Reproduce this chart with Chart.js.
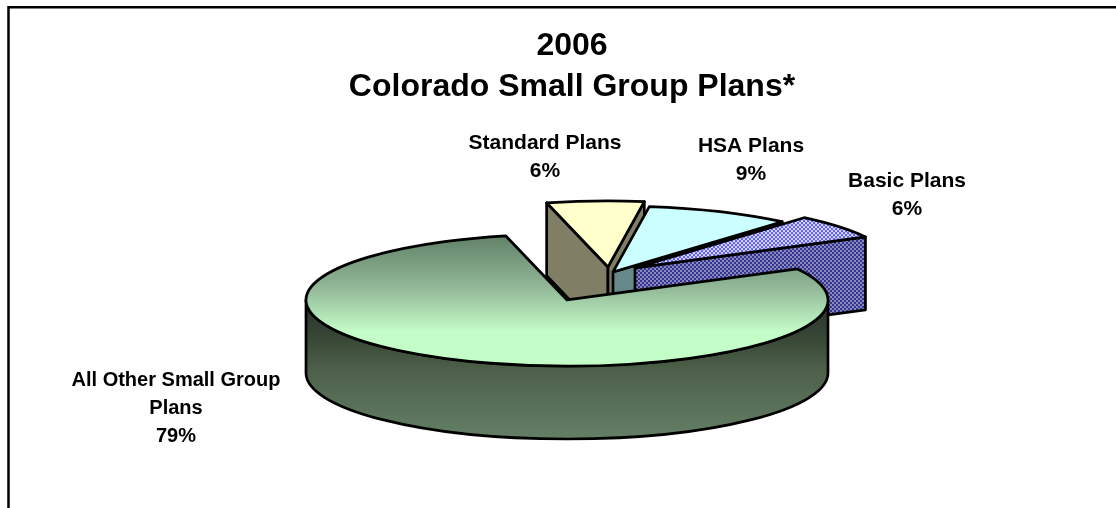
<!DOCTYPE html>
<html>
<head>
<meta charset="utf-8">
<title>2006 Colorado Small Group Plans</title>
<script src="https://cdn.jsdelivr.net/npm/chart.js@4"></script>
<style>
  html, body { margin: 0; padding: 0; background: #fff; overflow: hidden; }
  #wrap { width: 1116px; height: 508px; }
</style>
</head>
<body>
<div id="wrap"><canvas id="planChart" width="1116" height="508"></canvas></div>
<script>
// Chart data
const categories = ['Standard Plans', 'HSA Plans', 'Basic Plans', ['All Other Small Group', 'Plans']];
const shares = [6, 9, 6, 79];
const titleLines = ['2006', 'Colorado Small Group Plans*'];

// Pie drawing settings
const PIE_RADIUS = 261;
const SQUASH = 0.253;
const DEPTH = 73;
const LINE_WIDTH = 2.7;
const FIRST_SLICE_ANGLE = -13.6;
const explodeShift = [[36, -33], [41, -28], [63, -32], [-5, 0]];
const sideColors = ['#807f66', '#66888a', null, null];
const labelCenters = [[545, 143], [751, 146], [907, 181], [176, 380]];
const labelSizes = [21, 21, 21, 20];
const FONT_FAMILY = '"Liberation Sans", Arial, sans-serif';

function checkerPattern(ctx, colorA, colorB, scaleY) {
  const tile = document.createElement('canvas');
  tile.width = 4;
  tile.height = 4;
  const t = tile.getContext('2d');
  t.fillStyle = colorA;
  t.fillRect(0, 0, 4, 4);
  t.fillStyle = colorB;
  t.fillRect(0, 0, 2, 2);
  t.fillRect(2, 2, 2, 2);
  const pattern = ctx.createPattern(tile, 'repeat');
  pattern.setTransform(new DOMMatrix().scale(1, scaleY));
  return pattern;
}

// The top of the pie is painted under a squash transform, so its gradient is in unsquashed units
function sliceFill(context) {
  const chart = context.chart;
  if (context.dataIndex === 0) return '#ffffcc';
  if (context.dataIndex === 1) return '#ccffff';
  if (context.dataIndex === 2) return checkerPattern(chart.ctx, '#dcdcff', '#5a5aff', 1 / SQUASH);
  const area = chart.chartArea;
  if (!area) return '#c4fdc8';
  const cy = (area.top + area.bottom) / 2;
  const g = chart.ctx.createLinearGradient(0, cy - PIE_RADIUS, 0, cy + PIE_RADIUS * 0.48);
  g.addColorStop(0, '#5f7f65');
  g.addColorStop(0.55, '#92b898');
  g.addColorStop(1, '#c4fdc8');
  return g;
}

function rimPoint(cx, cy, angle) {
  return [cx + Math.cos(angle) * PIE_RADIUS, cy + Math.sin(angle) * PIE_RADIUS * SQUASH];
}

// Flat side of a pulled out slice, from the apex to the rim
function drawCutFace(ctx, cx, cy, angle, fill) {
  const rim = rimPoint(cx, cy, angle);
  ctx.beginPath();
  ctx.moveTo(cx, cy);
  ctx.lineTo(rim[0], rim[1]);
  ctx.lineTo(rim[0], rim[1] + DEPTH);
  ctx.lineTo(cx, cy + DEPTH);
  ctx.closePath();
  ctx.fillStyle = fill;
  ctx.fill();
  ctx.stroke();
}

// Curved outer wall, only the part of the rim facing the viewer
function drawOuterWall(ctx, cx, cy, start, end) {
  const from = Math.max(start, 0);
  const to = Math.min(end, Math.PI);
  if (to <= from) return;
  const ry = PIE_RADIUS * SQUASH;
  const g = ctx.createLinearGradient(0, cy, 0, cy + ry + DEPTH);
  g.addColorStop(0, '#263026');
  g.addColorStop(0.3, '#3a4a38');
  g.addColorStop(0.5, '#4d6049');
  g.addColorStop(1, '#647f66');
  ctx.beginPath();
  ctx.ellipse(cx, cy, PIE_RADIUS, ry, 0, from, to);
  ctx.ellipse(cx, cy + DEPTH, PIE_RADIUS, ry, 0, to, from, true);
  ctx.closePath();
  ctx.fillStyle = g;
  ctx.fill();
  ctx.stroke();
}

const pie3dPlugin = {
  id: 'pie3d',
  beforeDraw(chart) {
    // Chart frame, cut off by the picture on the right and at the bottom
    const ctx = chart.ctx;
    ctx.save();
    ctx.strokeStyle = '#000';
    ctx.lineWidth = 2.5;
    ctx.beginPath();
    ctx.moveTo(8.5, chart.height);
    ctx.lineTo(8.5, 7.3);
    ctx.lineTo(chart.width, 7.3);
    ctx.stroke();
    ctx.restore();
  },
  beforeDatasetDraw(chart, args) {
    const ctx = chart.ctx;
    const basicSide = checkerPattern(ctx, '#8a8ab4', '#333399', 1);
    args.meta.data.forEach((arc, i) => {
      const { x, y, startAngle, endAngle } = arc.getProps(['x', 'y', 'startAngle', 'endAngle'], true);
      const cx = x + explodeShift[i][0];
      const cy = y + explodeShift[i][1];
      ctx.save();
      ctx.strokeStyle = '#000';
      ctx.lineWidth = LINE_WIDTH;
      ctx.lineJoin = 'round';
      const side = sideColors[i] || basicSide;
      if (Math.cos(startAngle) < 0 && i < 3) drawCutFace(ctx, cx, cy, startAngle, side);
      if (Math.cos(endAngle) > 0 && i < 3) drawCutFace(ctx, cx, cy, endAngle, side);
      drawOuterWall(ctx, cx, cy, startAngle, endAngle);

      // Top face
      ctx.save();
      ctx.translate(cx, cy);
      ctx.scale(1, SQUASH);
      ctx.translate(-x, -y);
      arc.draw(ctx);
      ctx.restore();

      // Outline is stroked unscaled to keep an even line width
      ctx.beginPath();
      ctx.moveTo(cx, cy);
      ctx.ellipse(cx, cy, PIE_RADIUS, PIE_RADIUS * SQUASH, 0, startAngle, endAngle);
      ctx.closePath();
      ctx.stroke();
      ctx.restore();
    });
    return false;
  },
  afterDraw(chart) {
    const ctx = chart.ctx;
    ctx.save();
    ctx.fillStyle = '#000';
    ctx.textAlign = 'center';
    ctx.textBaseline = 'middle';
    categories.forEach((name, i) => {
      ctx.font = 'bold ' + labelSizes[i] + 'px ' + FONT_FAMILY;
      const lines = [].concat(name, shares[i] + '%');
      lines.forEach((line, n) => {
        ctx.fillText(line, labelCenters[i][0], labelCenters[i][1] + n * 28);
      });
    });
    ctx.restore();
  }
};

new Chart(document.getElementById('planChart'), {
  type: 'pie',
  data: {
    labels: categories,
    datasets: [{
      data: shares,
      backgroundColor: sliceFill,
      borderWidth: 0
    }]
  },
  options: {
    responsive: false,
    animation: false,
    events: [],
    rotation: FIRST_SLICE_ANGLE,
    radius: PIE_RADIUS,
    layout: { padding: { left: 28, top: 26, bottom: 26 } },
    plugins: {
      legend: { display: false },
      tooltip: { enabled: false },
      title: {
        display: true,
        text: titleLines,
        color: '#000',
        font: { family: FONT_FAMILY, size: 32, weight: 'bold', lineHeight: 1.28 },
        padding: { top: 0, bottom: 10 }
      }
    }
  },
  plugins: [pie3dPlugin]
});
</script>
</body>
</html>
